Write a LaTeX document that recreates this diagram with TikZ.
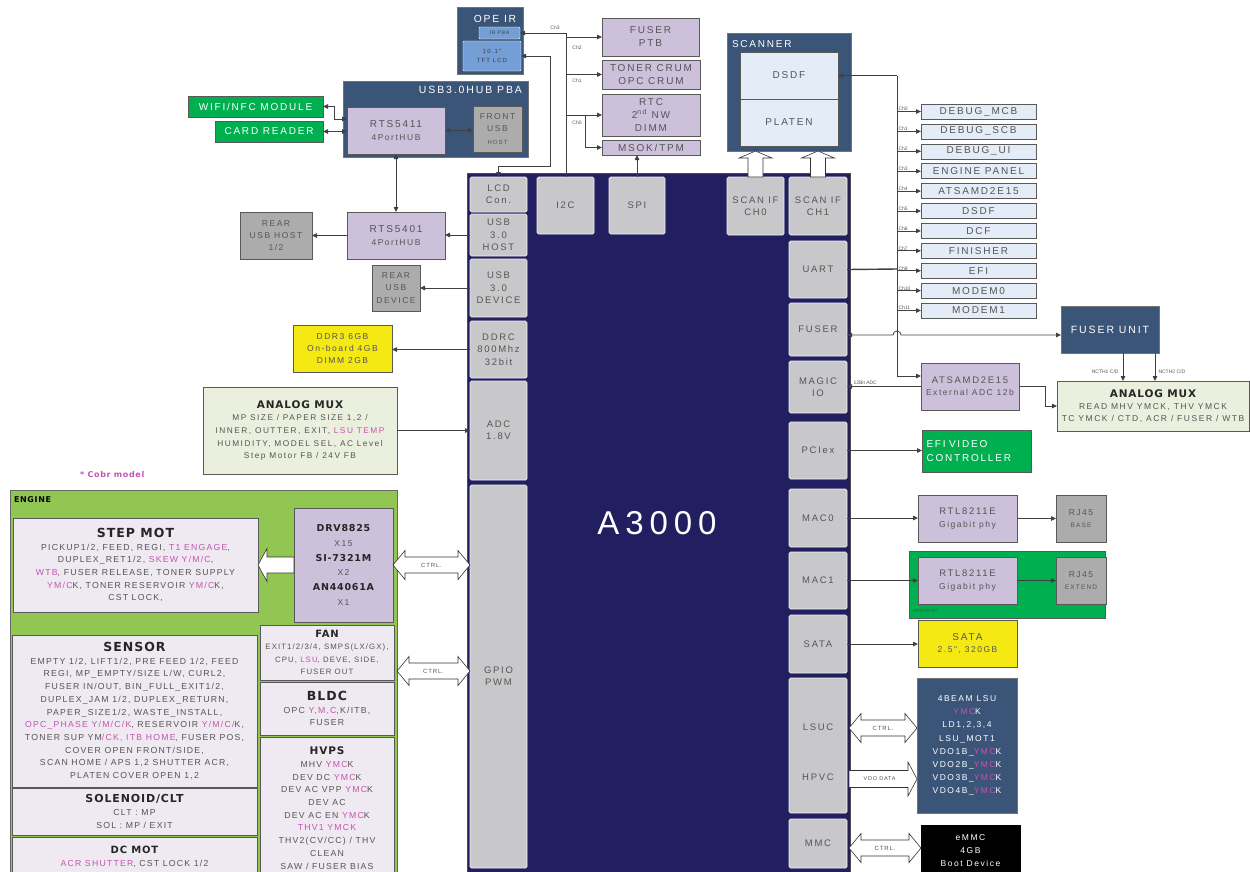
\documentclass[tikz,border=0pt]{standalone}
\usepackage{fontspec}
\setmainfont{Liberation Sans}
\newfontfamily\wide{Liberation Sans}[LetterSpace=18]
\newfontfamily\tight{Liberation Sans}[LetterSpace=14]
\newfontfamily\heavy{DejaVu Sans}[LetterSpace=8]
\usepackage{tikz}
\usetikzlibrary{arrows.meta, positioning, calc}

\definecolor{hubblue}{RGB}{59,85,121}
\definecolor{socnavy}{RGB}{34,31,96}
\definecolor{blkgray}{RGB}{200,200,202}
\definecolor{dkgray}{RGB}{172,172,172}
\definecolor{lav}{RGB}{204,192,218}
\definecolor{brgreen}{RGB}{0,176,80}
\definecolor{ylw}{RGB}{245,233,20}
\definecolor{muxgreen}{RGB}{234,239,222}
\definecolor{enggreen}{RGB}{146,198,83}
\definecolor{engbox}{RGB}{239,234,241}
\definecolor{dbgblue}{RGB}{228,236,247}
\definecolor{lcdblue}{RGB}{116,158,214}
\definecolor{mag}{RGB}{196,84,176}
\definecolor{txt}{RGB}{85,85,85}
\definecolor{wirecol}{RGB}{64,64,64}

\newcommand{\mg}[1]{\textcolor{mag}{#1}}
\newcommand{\ttl}[2][9.5]{{\heavy\bfseries\color{black!85}\fontsize{#1}{12}\selectfont #2}}
% hollow double block arrow, #1 left tip, #2 right tip
\newcommand{\ctrlarrow}[2]{%
  \draw[blkarr] (#1) -- ++(12,-14.5) -- ++(0,6.5) -- ($(#2)+(-12,-8)$) -- ++(0,-6.5) -- (#2)
    -- ++(-12,14.5) -- ++(0,-6.5) -- ($(#1)+(12,8)$) -- ++(0,6.5) -- cycle;}
% hollow upward block arrow, #1 tail, #2 tip
\newcommand{\scanarrow}[2]{%
  \draw[blkarr] ($(#1)+(-7.5,0)$) -- ($(#2)+(-7.5,7)$) -- ($(#2)+(-16.5,7)$) -- (#2)
    -- ($(#2)+(16.5,7)$) -- ($(#2)+(7.5,7)$) -- ($(#1)+(7.5,0)$) -- cycle;}

\begin{document}
\begin{tikzpicture}[
    x=1pt, y=-1pt,
    font=\wide\fontsize{8.5}{12.3}\selectfont,
    >={Triangle[length=5pt, width=4.5pt]},
    every node/.style={inner sep=1pt, outer sep=0pt, align=center},
    wh/.style 2 args={minimum width=#1pt, minimum height=#2pt},
    big/.style={font=\wide\fontsize{10}{13}\selectfont},
    pba/.style={draw=black!55, fill=hubblue, text=white, line width=0.7pt},
    chipblk/.style={draw=white!75!blkgray, fill=blkgray, rounded corners=1.5pt, text=txt, line width=0.7pt, font=\wide\fontsize{9.5}{12.3}\selectfont},
    purp/.style={draw=black!65, fill=lav, text=txt, line width=0.7pt},
    greybox/.style={draw=black!65, fill=dkgray, text=txt, line width=0.7pt},
    grn/.style={draw=black!65, fill=brgreen, text=white, line width=0.7pt, big},
    ylwbox/.style={draw=black!65, fill=ylw, text=txt, line width=0.7pt},
    dbg/.style={draw=black!65, fill=dbgblue, text=txt, wh={115}{15}, line width=0.6pt, big},
    engbx/.style={draw=black!65, fill=engbox, text=txt, font=\tight\fontsize{8.7}{12.7}\selectfont, line width=0.7pt},
    mux/.style={draw=black!65, fill=muxgreen, text=txt, line width=0.7pt},
    chn/.style={font=\fontsize{5}{6}\selectfont, text=txt, inner sep=0.5pt},
    wire/.style={draw=wirecol, line width=0.8pt},
    arrow/.style={->, wire},
    both/.style={<->, wire},
    blkarr/.style={draw=black!80, fill=white, line width=0.6pt, line join=miter},
    arrtxt/.style={text=txt, font=\tight\fontsize{6}{7}\selectfont, inner sep=0pt}
]
\useasboundingbox (0,0) rectangle (1250,871);

% A3000 chip
\node[draw=black!70, fill=socnavy, wh={383}{712}] (soc) at (658.5,529) {};
\node[font=\wide\fontsize{33}{33}\selectfont, text=white] (socname) at (657,523) {A3000};

\node[chipblk, wh={57}{35}] (lcd) at (498.5,194.5) {LCD\\Con.};
\node[chipblk, wh={57}{42}] (usbh) at (498.5,235) {USB\\3.0\\HOST};
\node[chipblk, wh={57}{58}] (usbd) at (498.5,288) {USB\\3.0\\DEVICE};
\node[chipblk, wh={57}{57}] (ddrc) at (498.5,349.5) {DDRC\\800Mhz\\32bit};
\node[chipblk, wh={57}{99}] (adc) at (498.5,430.5) {ADC\\1.8V};
\node[chipblk, wh={57}{383}] (gpio) at (498.5,676.5) {GPIO\\PWM};
\node[chipblk, wh={57}{57}] (i2c) at (565.5,205.5) {I2C};
\node[chipblk, wh={56}{57}] (spi) at (637,205.5) {SPI};
\node[chipblk, wh={57}{58}] (scan0) at (755.5,206) {SCAN IF\\CH0};
\node[chipblk, wh={58}{58}] (scan1) at (818,206) {SCAN IF\\CH1};
\node[chipblk, wh={58}{57}] (uart) at (818,269.5) {UART};
\node[chipblk, wh={58}{53}] (fuser) at (818,329.5) {FUSER};
\node[chipblk, wh={58}{52}] (magic) at (818,387) {MAGIC\\IO};
\node[chipblk, wh={58}{57}] (pciex) at (818,450.5) {PCIex};
\node[chipblk, wh={58}{58}] (mac0) at (818,518) {MAC0};
\node[chipblk, wh={58}{57}] (mac1) at (818,580.5) {MAC1};
\node[chipblk, wh={58}{58}] (sata) at (818,644) {SATA};
\node[chipblk, wh={58}{135}] (lsublk) at (818,745.5) {};
\node[text=txt, font=\wide\fontsize{9.5}{12}\selectfont] (lsuc) at (818,727) {LSUC};
\node[text=txt, font=\wide\fontsize{9.5}{12}\selectfont] (hpvc) at (818,777) {HPVC};
\node[chipblk, wh={58}{49}] (mmc) at (818,843.5) {MMC};

% OPE IR and USB hub
\node[pba, wh={66}{67}] (opeir) at (490,40.5) {};
\node[text=white, font=\wide\fontsize{10.3}{12}\selectfont] (opeirT) at (495,19) {OPE IR};
\node[draw=white, fill=lcdblue, text=black!75, wh={41}{12}, font=\wide\fontsize{5}{6}\selectfont, rounded corners=1pt] (irpba) at (499.5,33) {IR PBA};
\node[draw=white, fill=lcdblue, text=black!75, wh={58}{30}, font=\wide\fontsize{6}{8.5}\selectfont, rounded corners=1pt] (tft) at (492,56) {10.1"\\TFT LCD};

\node[pba, wh={185}{76}] (hubpba) at (435.5,119) {};
\node[text=white, anchor=north east, font=\wide\fontsize{10.5}{12}\selectfont] (hubpbaT) at (523,85) {USB3.0HUB PBA};
\node[purp, wh={98}{47}] (rts5411) at (396,130.5) {{\fontsize{10}{12}\selectfont RTS5411}\\4PortHUB};
\node[greybox, wh={49}{46}] (front) at (497.5,129) {FRONT\\USB\\{\fontsize{6}{8}\selectfont HOST}};
\node[grn, wh={135}{21}] (wifi) at (255.5,106.5) {WIFI/NFC MODULE};
\node[grn, wh={108}{21}] (card) at (269,131.5) {CARD READER};

% I2C / SPI devices
\node[purp, wh={97}{38}, big] (fuserptb) at (650.5,37) {FUSER\\PTB};
\node[purp, wh={98}{29}, big] (crum) at (651,74.5) {TONER CRUM\\OPC CRUM};
\node[purp, wh={98}{42}, big] (rtc) at (651,115) {RTC\\2\textsuperscript{nd} NW\\DIMM};
\node[purp, wh={98}{15}, big] (msok) at (651,147.5) {MSOK/TPM};

% scanner
\node[pba, wh={124}{118}] (scanner) at (789,92) {};
\node[text=white, anchor=west, big] (scannerT) at (731,44) {SCANNER};
\node[draw=black!65, fill=dbgblue, text=txt, wh={98}{47}, big] (sdsdf) at (789,75.5) {DSDF};
\node[draw=black!65, fill=dbgblue, text=txt, wh={98}{47}, big] (platen) at (789,122.5) {PLATEN};

% right side
\node[pba, wh={98}{47}, font=\wide\fontsize{10.5}{12}\selectfont] (fuserunit) at (1110,329.5) {FUSER UNIT};
\node[mux, wh={192}{50}, font=\wide\fontsize{8.5}{12}\selectfont] (muxr) at (1153,406) {\ttl[10.5]{ANALOG MUX}\\READ MHV YMCK, THV YMCK\\TC YMCK / CTD, ACR / FUSER / WTB};
\node[purp, wh={98}{47}] (atsam) at (970,386.5) {{\fontsize{9.5}{12}\selectfont ATSAMD2E15}\\External ADC 12b};
\node[grn, wh={109}{42}, text width=100pt, align=left, font=\wide\fontsize{10}{14}\selectfont] (efi) at (976.5,451) {EFI VIDEO\\CONTROLLER};
\node[draw=black!65, fill=brgreen, wh={196}{67}] (optkit) at (1007,584.5) {};
\node[font=\fontsize{4.5}{5}\selectfont, text=black!70, anchor=west] (optkitT) at (912,611) {OPTION KIT};
\node[purp, wh={99}{47}] (rtl0) at (967.5,518.5) {{\fontsize{9.5}{12}\selectfont RTL8211E}\\Gigabit phy};
\node[greybox, wh={50}{47}] (rj0) at (1081,518.5) {RJ45\\{\fontsize{6.5}{8}\selectfont BASE}};
\node[purp, wh={99}{47}] (rtl1) at (967.5,580.5) {{\fontsize{9.5}{12}\selectfont RTL8211E}\\Gigabit phy};
\node[greybox, wh={50}{47}] (rj1) at (1081,580.5) {RJ45\\{\fontsize{6.5}{8}\selectfont EXTEND}};
\node[ylwbox, wh={99}{47}] (hdd) at (967.5,643.5) {{\fontsize{10}{12}\selectfont SATA}\\2.5", 320GB};
\node[pba, wh={100}{135}, font=\wide\fontsize{8.5}{13.1}\selectfont] (lsu) at (967,745.5) {4BEAM LSU\\\mg{YMC}K\\LD1,2,3,4\\LSU\_MOT1\\VDO1B\_\mg{YMC}K\\VDO2B\_\mg{YMC}K\\VDO3B\_\mg{YMC}K\\VDO4B\_\mg{YMC}K};
\node[draw=black, fill=black, text=white, wh={99}{52}, font=\wide\fontsize{8.5}{13}\selectfont] (emmc) at (970.5,851) {eMMC\\4GB\\Boot Device};

% left side
\node[purp, wh={98}{47}] (rts5401) at (396,235.5) {{\fontsize{10}{12}\selectfont RTS5401}\\4PortHUB};
\node[greybox, wh={72}{47}] (rearhost) at (276,235.5) {REAR\\USB HOST\\1/2};
\node[greybox, wh={48}{46}] (reardev) at (396,288) {REAR\\USB\\DEVICE};
\node[ylwbox, wh={99}{47}] (ddr3) at (342.5,348.5) {DDR3 6GB\\On-board 4GB\\DIMM 2GB};
\node[mux, wh={194}{87}, font=\wide\fontsize{8.3}{12.7}\selectfont] (muxl) at (300,430.5) {\ttl[10.5]{ANALOG MUX}\\MP SIZE / PAPER SIZE 1,2 /\\INNER, OUTTER, EXIT, \mg{LSU TEMP}\\HUMIDITY, MODEL SEL, AC Level\\Step Motor FB / 24V FB};

% engine
\node[font=\heavy\bfseries\fontsize{8}{9}\selectfont, text=mag, anchor=west] (cobr) at (79,475) {* Cobr model};
\node[draw=black!60, fill=enggreen, wh={387}{392}] (engine) at (203.5,686) {};
\node[font=\heavy\bfseries\fontsize{8}{9}\selectfont, anchor=west] (engineT) at (13,500) {ENGINE};
\node[engbx, wh={245}{94}] (stepmot) at (135.5,565) {\ttl[12.5]{STEP MOT}\\PICKUP1/2, FEED, REGI, \mg{T1 ENGAGE},\\DUPLEX\_RET1/2, \mg{SKEW Y/M/C},\\\mg{WTB}, FUSER RELEASE, TONER SUPPLY\\\mg{YM/C}K, TONER RESERVOIR \mg{YM/C}K,\\CST LOCK,};
\node[purp, wh={99}{114}, font=\wide\fontsize{8.5}{14.8}\selectfont] (drv) at (343.5,565) {\ttl{DRV8825}\\X15\\\ttl{SI-7321M}\\X2\\\ttl{AN44061A}\\X1};
\node[engbx, wh={245}{152}] (sensor) at (134.5,711) {\ttl[12.5]{SENSOR}\\EMPTY 1/2, LIFT1/2, PRE FEED 1/2, FEED\\REGI, MP\_EMPTY/SIZE L/W, CURL2,\\FUSER IN/OUT, BIN\_FULL\_EXIT1/2,\\DUPLEX\_JAM 1/2, DUPLEX\_RETURN,\\PAPER\_SIZE1/2, WASTE\_INSTALL,\\\mg{OPC\_PHASE Y/M/C/K}, RESERVOIR \mg{Y/M/C/}K,\\TONER SUP YM\mg{/CK, ITB HOME}, FUSER POS,\\COVER OPEN FRONT/SIDE,\\SCAN HOME / APS 1,2 SHUTTER ACR,\\PLATEN COVER OPEN 1,2};
\node[engbx, wh={245}{47}] (solenoid) at (134.5,811.5) {\ttl[11]{SOLENOID/CLT}\\CLT : MP\\SOL : MP / EXIT};
\node[engbx, wh={245}{40}] (dcmot) at (134.5,857) {\ttl[10]{DC MOT}\\\mg{ACR SHUTTER}, CST LOCK 1/2};
\node[engbx, wh={134}{55}, font=\tight\fontsize{7.8}{12.5}\selectfont] (fan) at (327,652.5) {\ttl[10]{FAN}\\EXIT1/2/3/4, SMPS(LX/GX),\\CPU, \mg{LSU}, DEVE, SIDE,\\FUSER OUT};
\node[engbx, wh={134}{53}] (bldc) at (327,708.5) {\ttl[12.5]{BLDC}\\OPC \mg{Y,M,C},K/ITB,\\FUSER};
\node[engbx, wh={134}{142}] (hvps) at (327,808) {\ttl[10.5]{HVPS}\\MHV \mg{YMC}K\\DEV DC \mg{YMC}K\\DEV AC VPP \mg{YMC}K\\DEV AC\\DEV AC EN \mg{YMC}K\\\mg{THV1 YMCK}\\THV2(CV/CC) / THV\\CLEAN\\SAW / FUSER BIAS};

% block arrows
\coordinate (sc0top) at (scan0.north |- scanner.south);
\coordinate (sc1top) at (scan1.north |- scanner.south);
\scanarrow{scan0.north}{sc0top}
\scanarrow{scan1.north}{sc1top}
\draw[blkarr] ($(drv.west)+(0,-8)$) -- ($(stepmot.east)+(9,-8)$) -- ($(stepmot.east)+(9,-16.5)$) -- (stepmot.east)
  -- ($(stepmot.east)+(9,16.5)$) -- ($(stepmot.east)+(9,8)$) -- ($(drv.west)+(0,8)$) -- cycle;
\coordinate (c0b) at (drv.east -| gpio.west);
\ctrlarrow{drv.east}{c0b}
\node[arrtxt] (ctrl0) at ($(drv.east)!0.5!(c0b)$) {CTRL.};
\coordinate (fanctl) at ($(fan.east)+(3,18.5)$);
\coordinate (c1b) at (fanctl -| gpio.west);
\ctrlarrow{fanctl}{c1b}
\node[arrtxt] (ctrl1) at ($(fanctl)!0.5!(c1b)$) {CTRL.};
\coordinate (lsuctl) at ($(lsublk.east)+(2,-17.5)$);
\coordinate (c2b) at (lsuctl -| lsu.west);
\ctrlarrow{lsuctl}{c2b}
\node[arrtxt] (ctrl2) at ($(lsuctl)!0.5!(c2b)$) {CTRL.};
\coordinate (vdo) at ($(lsublk.east)+(2,33.5)$);
\coordinate (vdob) at (vdo -| lsu.west);
\draw[blkarr] ($(vdo)+(0,-8.5)$) -- ($(vdob)+(-9,-8.5)$) -- ($(vdob)+(-9,-17)$) -- (vdob)
  -- ($(vdob)+(-9,17)$) -- ($(vdob)+(-9,8.5)$) -- ($(vdo)+(0,8.5)$) -- cycle;
\node[arrtxt, font=\tight\fontsize{5.5}{6}\selectfont] (vdotxt) at ($(vdo)!0.45!(vdob)$) {VDO DATA};
\coordinate (mmcctl) at ($(mmc.east)+(2,4.5)$);
\coordinate (c3b) at (mmcctl -| emmc.west);
\ctrlarrow{mmcctl}{c3b}
\node[arrtxt] (ctrl3) at ($(mmcctl)!0.5!(c3b)$) {CTRL.};

% USB / memory links
\draw[both] (wifi.east) -- ++(11,0) |- ($(rts5411.west)+(0,-11.5)$);
\draw[both] (card.east) -- (card.east -| rts5411.west);
\draw[both] (rts5411.east) -- (rts5411.east -| front.west);
\draw[both] (rts5411.south) -- (rts5401.north);
\draw[both] (tft.east) -- ++(29,0) |- ($(lcd.north)+(0,-11)$) -- (lcd.north);
\draw[arrow] (usbh.west) -- (usbh.west -| rts5401.east);
\draw[arrow] (rts5401.west) -- (rearhost.east);
\draw[arrow] (usbd.west) -- (usbd.west -| reardev.east);
\draw[arrow] (ddrc.west) -- (ddrc.west -| ddr3.east);
\draw[arrow] (muxl.east) -- (muxl.east -| adc.west);

% I2C bus
\coordinate (i2cbus) at ($(i2c.north)+(0.5,0)$);
\draw[wire] (i2cbus) -- (i2cbus |- irpba.east);
\draw[arrow] (i2cbus |- irpba.east) -- (irpba.east);
\draw[arrow] (i2cbus |- fuserptb.west) -- (fuserptb.west);
\draw[arrow] (i2cbus |- crum.west) -- (crum.west);
\draw[arrow] (i2cbus |- rtc.west) -- (rtc.west);
\draw[arrow] ($(i2cbus |- rtc.west)+(19,0)$) |- (msok.west);
\node[chn] (i2cch3) at (555,28) {Ch3};
\node[chn] (i2cch2) at (577,48) {Ch2};
\node[chn] (i2cch1) at (577,81) {Ch1};
\node[chn] (i2cch0) at (577,123) {Ch0};
\draw[arrow] (spi.north) -- (spi.north |- msok.south);

% UART bus
\coordinate (bus) at (897,269);
\draw[wire, line width=1.4pt] (uart.east) -- (bus);
\draw[arrow] (bus |- sdsdf.east) -- (sdsdf.east);
\draw[arrow] (bus |- sdsdf.east) -- ($(bus |- atsam.west)+(0,-10.5)$) -- ($(atsam.west)+(0,-10.5)$);
\foreach \t/\c [count=\i from 0] in {DEBUG\_MCB/0, DEBUG\_SCB/1, DEBUG\_UI/2, ENGINE PANEL/3, ATSAMD2E15/4, DSDF/5, DCF/6, FINISHER/7, EFI/9, MODEM0/10, MODEM1/11}{
  \node[dbg] (dbg\i) at (978.5,{111.5+19.9*\i}) {\t};
  \draw[arrow] (bus |- dbg\i.west) -- (dbg\i.west);
  \node[chn, anchor=south west] (ch\i) at ($(bus |- dbg\i.west)+(1,0)$) {Ch\c};
}

% fuser, ADC, PCIe, MAC, SATA
\draw[both] ($(fuser.east)+(0,5.5)$) -- ($(bus |- fuser.east)+(-4,5.5)$) arc[start angle=180, end angle=0, radius=4pt] -- ($(fuserunit.west)+(0,5.5)$);
\draw[arrow] (atsam.west) -- (atsam.west -| magic.east);
\node[chn, anchor=south west] (adclbl) at ($(magic.east)+(6,-2)$) {12Bit ADC};
\draw[arrow] (atsam.east) -- ++(26,0) |- (muxr.west);
\coordinate (ncth1) at ($(fuserunit.south)+(13,0)$);
\coordinate (ncth2) at ($(fuserunit.south)+(45,0)$);
\draw[arrow] (ncth1) -- (ncth1 |- muxr.north);
\draw[arrow] (ncth2) -- (ncth2 |- muxr.north);
\node[chn, anchor=east] (ncth1T) at ($(ncth1 |- muxr.north)+(-4,-9)$) {NCTH1 C/D};
\node[chn, anchor=west] (ncth2T) at ($(ncth2 |- muxr.north)+(3,-9)$) {NCTH2 C/D};
\draw[arrow] (pciex.east) -- (pciex.east -| efi.west);
\draw[arrow] (mac0.east) -- (mac0.east -| rtl0.west);
\draw[arrow] (rtl0.east) -- (rj0.west);
\draw[arrow] (mac1.east) -- (mac1.east -| rtl1.west);
\draw[arrow] (rtl1.east) -- (rj1.west);
\draw[arrow] (sata.east) -- (sata.east -| hdd.west);

\end{tikzpicture}
\end{document}
